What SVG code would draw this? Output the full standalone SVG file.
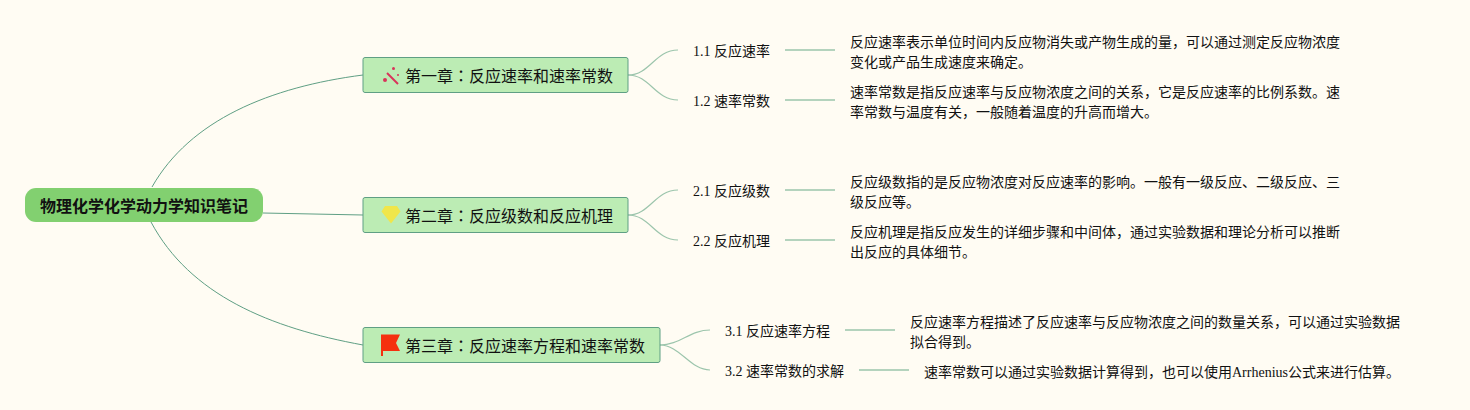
<svg xmlns="http://www.w3.org/2000/svg" width="1470" height="410" viewBox="0 0 1470 410">
<style>
text{font-family:"Liberation Serif","Noto Sans CJK SC",serif;fill:#111;white-space:pre}
.root{font-size:16px;font-weight:700}
.ch{font-size:16px}
.c{font-family:"Noto Sans CJK TC",sans-serif}
.t{font-size:14px}
.box{fill:#bcecb4;stroke:#5f9f84;stroke-width:1}
.main{fill:none;stroke:#5f9f84;stroke-width:1}
.sub{fill:none;stroke:#9cc5ac;stroke-width:1.2}
.lead{fill:none;stroke:#9cc5ac;stroke-width:1.5}
</style>
<rect width="1470" height="410" fill="#fffcf3"/>
<g id="connectors">
<path class="main" d="M152 187C190 120 270 87 363 75"/>
<path class="main" d="M263 213L363 215"/>
<path class="main" d="M151 222C190 295 270 328 363 345"/>
<path class="sub" d="M628 75C650 75 655 50 678 50"/>
<path class="sub" d="M628 75C650 75 655 100 678 100"/>
<path class="sub" d="M628 215C650 215 655 190 678 190"/>
<path class="sub" d="M628 215C650 215 655 240 678 240"/>
<path class="sub" d="M660 345C680 345 690 330 710 330"/>
<path class="sub" d="M660 345C680 345 690 370 710 370"/>
<path class="lead" d="M785 50H835M785 100H835M785 190H835M785 240H835M845 330H895M859 370H909"/>
</g>
<g id="root"><rect x="25" y="188" width="238" height="34" rx="11" fill="#82d070"/><text class="root" x="40" y="212">物理化学化学动力学知识笔记</text></g>
<g id="ch1"><rect class="box" x="363" y="57.500" width="265" height="35" rx="2"/>
<g fill="#d8345a"><path d="M387 73L398 84" stroke="#d8345a" stroke-width="2"/><circle cx="385" cy="80" r="2"/><circle cx="393.500" cy="68.500" r="1.500"/><circle cx="398" cy="75" r="1"/></g>
<text class="ch" x="405" y="82">第一章<tspan class="c">：</tspan>反应速率和速率常数</text></g>
<g id="ch2"><rect class="box" x="363" y="197.500" width="265" height="35" rx="2"/>
<path d="M385 206H397L400.500 211.500L391 223.500L381.500 211.500Z" fill="#f0e64a"/>
<text class="ch" x="405" y="222">第二章<tspan class="c">：</tspan>反应级数和反应机理</text></g>
<g id="ch3"><rect class="box" x="363" y="327.500" width="297" height="35" rx="2"/>
<path d="M381 334.500H400L396 343L400 351H383V356H381Z" fill="#f5300f"/>
<text class="ch" x="405" y="352">第三章<tspan class="c">：</tspan>反应速率方程和速率常数</text></g>
<g id="n11"><text class="t" x="693" y="56">1.1 反应速率</text></g>
<g id="n12"><text class="t" x="693" y="106">1.2 速率常数</text></g>
<g id="n21"><text class="t" x="693" y="196">2.1 反应级数</text></g>
<g id="n22"><text class="t" x="693" y="246">2.2 反应机理</text></g>
<g id="n31"><text class="t" x="725" y="336">3.1 反应速率方程</text></g>
<g id="n32"><text class="t" x="725" y="376">3.2 速率常数的求解</text></g>
<g id="d11"><text class="t" x="850" y="47">反应速率表示单位时间内反应物消失或产物生成的量，可以通过测定反应物浓度</text><text class="t" x="850" y="67">变化或产品生成速度来确定。</text></g>
<g id="d12"><text class="t" x="850" y="97">速率常数是指反应速率与反应物浓度之间的关系，它是反应速率的比例系数。速</text><text class="t" x="850" y="117">率常数与温度有关，一般随着温度的升高而增大。</text></g>
<g id="d21"><text class="t" x="850" y="187">反应级数指的是反应物浓度对反应速率的影响。一般有一级反应、二级反应、三</text><text class="t" x="850" y="207">级反应等。</text></g>
<g id="d22"><text class="t" x="850" y="237">反应机理是指反应发生的详细步骤和中间体，通过实验数据和理论分析可以推断</text><text class="t" x="850" y="257">出反应的具体细节。</text></g>
<g id="d31"><text class="t" x="910" y="327">反应速率方程描述了反应速率与反应物浓度之间的数量关系，可以通过实验数据</text><text class="t" x="910" y="347">拟合得到。</text></g>
<g id="d32"><text class="t" x="924" y="377">速率常数可以通过实验数据计算得到，也可以使用Arrhenius公式来进行估算。</text></g>
</svg>
